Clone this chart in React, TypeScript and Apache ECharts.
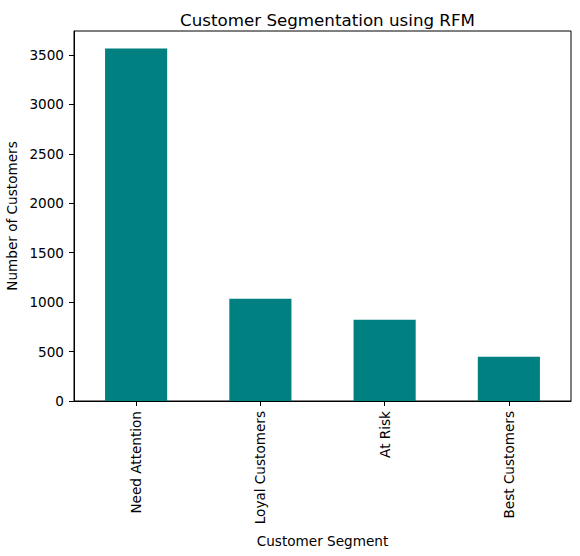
import React, { useEffect, useRef } from "react";
import * as echarts from "echarts";

const categories: string[] = ["Need Attention", "Loyal Customers", "At Risk", "Best Customers"];
const customerCounts: number[] = [3565, 1034, 822, 447];
const yTickInterval = 500;
const yMax = 3743;

const FONT = "DejaVu Sans";
const TICK_FONT = 13.6;

export default function App() {
  const ref = useRef<HTMLDivElement>(null);
  useEffect(() => {
    if (!ref.current) return;
    const chart = echarts.init(ref.current, undefined, { renderer: "svg" });
    chart.setOption({
      animation: false,
      backgroundColor: "#ffffff",
      textStyle: { fontFamily: FONT, color: "#000" },
      title: {
        text: "Customer Segmentation using RFM",
        left: 322.5,
        top: 6,
        textAlign: "center",
        textStyle: { fontFamily: FONT, fontSize: 16.7, fontWeight: "normal", color: "#000" },
      },
      grid: {
        left: 74,
        right: 9,
        top: 31,
        bottom: 155,
        containLabel: false,
        outerBoundsMode: "none",
        show: true,
        borderColor: "#000",
        borderWidth: 1,
        backgroundColor: "transparent",
      },
      xAxis: {
        type: "category",
        data: categories,
        boundaryGap: true,
        name: "Customer Segment",
        nameLocation: "middle",
        nameGap: 133,
        nameTextStyle: { fontFamily: FONT, fontSize: TICK_FONT, color: "#000" },
        axisLine: { show: true, lineStyle: { color: "#000", width: 1 } },
        axisTick: { show: true, alignWithLabel: true, length: 5, lineStyle: { color: "#000" } },
        axisLabel: {
          rotate: 90,
          margin: 10,
          fontFamily: FONT,
          fontSize: TICK_FONT,
          color: "#000",
          interval: 0,
        },
        splitLine: { show: false },
      },
      yAxis: {
        type: "value",
        min: 0,
        max: yMax,
        interval: yTickInterval,
        name: "Number of Customers",
        nameLocation: "middle",
        nameRotate: 90,
        nameGap: 50,
        nameTextStyle: { fontFamily: FONT, fontSize: TICK_FONT, color: "#000" },
        axisLine: { show: true, lineStyle: { color: "#000", width: 1 } },
        axisTick: { show: true, length: 5, lineStyle: { color: "#000" } },
        axisLabel: {
          margin: 10,
          fontFamily: FONT,
          fontSize: TICK_FONT,
          color: "#000",
          showMaxLabel: false,
          formatter: (v: number) => String(v),
        },
        splitLine: { show: false },
      },
      series: [
        {
          type: "bar",
          data: customerCounts,
          barWidth: "50%",
          itemStyle: { color: "#008080" },
        },
      ],
    });
    return () => chart.dispose();
  }, []);
  return (
    <div
      ref={ref}
      style={{ position: "fixed", left: 0, top: 0, width: 580, height: 556 }}
    />
  );
}
